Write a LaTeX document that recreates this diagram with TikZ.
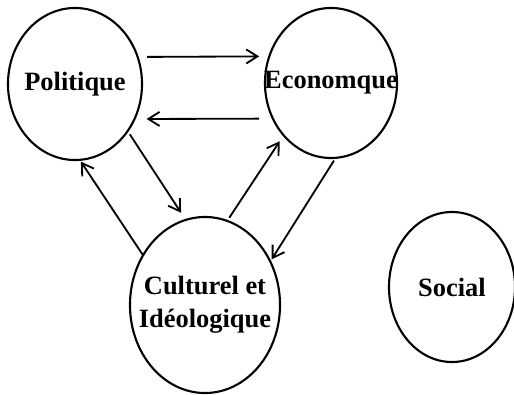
\documentclass[tikz,border=0pt]{standalone}
\usepackage{fontspec}
\setmainfont{Liberation Serif}
\usetikzlibrary{arrows.meta,shapes.geometric}
\tikzset{
    %Define standard arrow tip
    >={Straight Barb[length=8pt,width=10pt]},
    sphere/.style={
      ellipse,
      draw=black, line width=1.5pt,
      inner sep=0pt},
    lien/.style={
      ->,
      line width=1.3pt},
    nom/.style={
      font=\bfseries\fontsize{18.8}{23.5}\selectfont,
      align=center},
}

\begin{document}
\begin{tikzpicture}[x=0.025cm,y=-0.025cm]
    \useasboundingbox (0,0) rectangle (514,395);
    \node (pol) [sphere, minimum width=3.35cm, minimum height=3.8cm] at (75,84)
          {};
    \node (eco) [sphere, minimum width=3.3cm, minimum height=3.75cm] at (331,83)
          {};
    \node (cul) [sphere, minimum width=3.75cm, minimum height=4.4cm] at (205,305)
          {};
    \node (soc) [sphere, minimum width=3.15cm, minimum height=3.75cm] at (452,287)
          {};
    % texts
    \node (polt) [nom] at (pol.center) {Politique};
    \node (ecot) [nom] at (eco.center) {Economque};
    \node (cult) [nom] at (cul.center) {Culturel et\\Idéologique};
    \node (soct) [nom] at (soc.center) {Social};
    % arrows
    \draw [lien, shorten <=6pt, shorten >=6.4pt] (pol.23) -- (eco.157);
    \draw [lien, shorten <=9pt, shorten >=7.8pt] (eco.211) -- (pol.-30);
    \draw [lien, shorten <=2pt, shorten >=5.3pt] (pol.-42) -- (cul.103);
    \draw [lien, shorten >=0.7pt] (cul.141) -- (pol.-86);
    \draw [lien, shorten <=2pt, shorten >=4.3pt] (cul.75) -- (eco.228);
    \draw [lien, shorten <=1.4pt, shorten >=1pt] (eco.-87) -- (cul.34);
\end{tikzpicture}
\end{document}
